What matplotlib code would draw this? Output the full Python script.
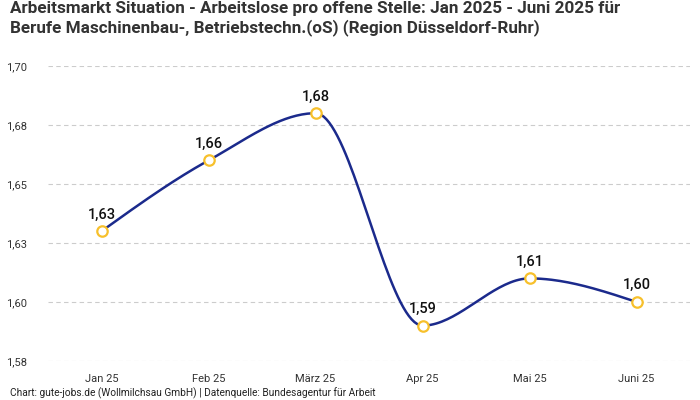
import numpy as np
import matplotlib
matplotlib.use("Agg")
import matplotlib.pyplot as plt
from matplotlib.ticker import FuncFormatter
from decimal import Decimal, ROUND_HALF_UP

# DATEN
months = ["Jan 25", "Feb 25", "März 25", "Apr 25", "Mai 25", "Juni 25"]
values = [1.63, 1.66, 1.68, 1.59, 1.61, 1.60]
yTicks = [1.575, 1.60, 1.625, 1.65, 1.675, 1.70]

title = ("Arbeitsmarkt Situation - Arbeitslose pro offene Stelle: Jan 2025 - Juni 2025 für\n"
         "Berufe Maschinenbau-, Betriebstechn.(oS) (Region Düsseldorf-Ruhr)")
source = "Chart: gute-jobs.de (Wollmilchsau GmbH) | Datenquelle: Bundesagentur für Arbeit"

plt.rcParams['font.family'] = ['Roboto', 'DejaVu Sans']


def Fmt(v):
    # kaufmännisch runden, Komma als Dezimaltrenner
    d = Decimal(str(round(v, 6))).quantize(Decimal("0.01"), rounding=ROUND_HALF_UP)
    return str(d).replace(".", ",")


# MONOTONE KURVE (wie d3 curveMonotoneX)
def MonotoneCurve(xs, ys, steps=40):
    xs = np.asarray(xs, float)
    ys = np.asarray(ys, float)
    n = len(xs)
    h = np.diff(xs)
    s = np.diff(ys) / h
    m = np.zeros(n)
    for i in range(1, n - 1):
        if s[i - 1] * s[i] <= 0:
            m[i] = 0
        else:
            p = (s[i - 1] * h[i] + s[i] * h[i - 1]) / (h[i - 1] + h[i])
            m[i] = (np.sign(s[i - 1]) + np.sign(s[i])) * min(abs(s[i - 1]), abs(s[i]), 0.5 * abs(p))
    m[0] = (3 * s[0] - m[1]) / 2 if n > 2 else s[0]
    m[-1] = (3 * s[-1] - m[-2]) / 2 if n > 2 else s[-1]
    outX, outY = [], []
    for i in range(n - 1):
        t = np.linspace(0, 1, steps)
        h00 = 2 * t**3 - 3 * t**2 + 1
        h10 = t**3 - 2 * t**2 + t
        h01 = -2 * t**3 + 3 * t**2
        h11 = t**3 - t**2
        outX.extend(xs[i] + t * h[i])
        outY.extend(h00 * ys[i] + h10 * h[i] * m[i] + h01 * ys[i + 1] + h11 * h[i] * m[i + 1])
    return np.array(outX), np.array(outY)


fig = plt.figure(figsize=(7, 4), dpi=100)
ax = fig.add_axes([0.0686, 0.0975, 0.9174, 0.7375])

xPos = np.arange(len(months))
cx, cy = MonotoneCurve(xPos, values)
ax.plot(cx, cy, color="#1b2a8c", linewidth=1.8, zorder=3)
ax.plot(xPos, values, linestyle="none", marker="o", markersize=7.5,
        markerfacecolor="white", markeredgecolor="#f7c02b", markeredgewidth=1.6, zorder=4)

for xi, v in zip(xPos, values):
    ax.annotate(Fmt(v), (xi, v), xytext=(0, 7), textcoords="offset points",
                ha="center", va="bottom", fontsize=10.5, fontweight="medium", color="#111111")

ax.set_xlim(-0.5, len(months) - 0.5)
ax.set_ylim(yTicks[0], yTicks[-1])
ax.set_xticks(xPos)
ax.set_xticklabels(months)
ax.set_yticks(yTicks)
ax.yaxis.set_major_formatter(FuncFormatter(lambda v, p: Fmt(v)))
ax.tick_params(axis="both", length=0, labelsize=8, labelcolor="#333333")
ax.tick_params(axis="y", pad=15)
ax.tick_params(axis="x", pad=9)
ax.grid(True, axis="y", linestyle=(0, (4, 3)), color="#cccccc", linewidth=0.8)
ax.set_axisbelow(True)
for sp in ax.spines.values():
    sp.set_visible(False)

fig.text(10 / 700, 1 - 1 / 400, title, ha="left", va="top", fontsize=12.3, fontweight="bold",
         color="#333333", linespacing=1.2)
fig.text(10 / 700, 1 - 393 / 400, source, ha="left", va="center", fontsize=7.3, color="#222222")

fig.savefig("out.png", dpi=100)
